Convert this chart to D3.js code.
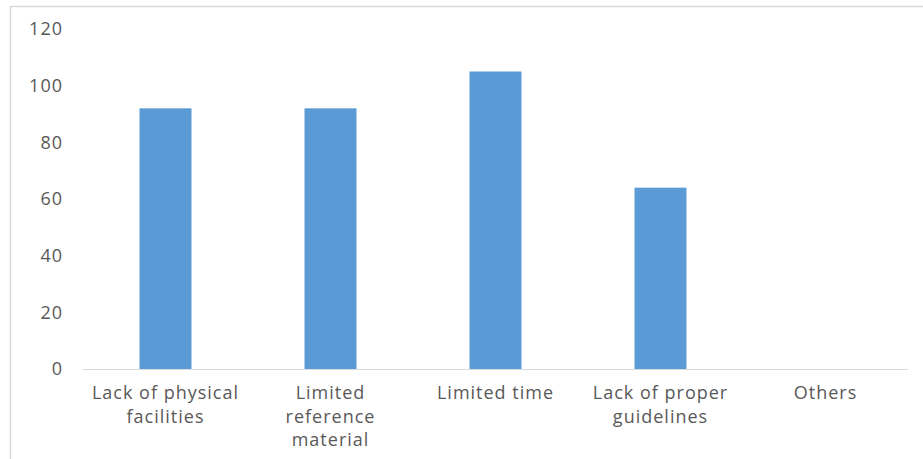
<!DOCTYPE html>
<html>
<head>
<meta charset="utf-8">
<script src="https://cdn.jsdelivr.net/npm/d3@7"></script>
<style>
  body { margin: 0; background: #fff; }
  svg text { font-family: "Open Sans", sans-serif; fill: #595959; letter-spacing: 1px; }
</style>
</head>
<body>
<div id="chart"></div>
<script>
// data
var categories = [
  ["Lack of physical", "facilities"],
  ["Limited", "reference", "material"],
  ["Limited time"],
  ["Lack of proper", "guidelines"],
  ["Others"]
];
var values = [92, 92, 105, 64, 0];
var yTicks = [0, 20, 40, 60, 80, 100, 120];

var svgWidth = 923;
var svgHeight = 459;

var margin = { top: 29, right: 15, bottom: 90, left: 83 };
var width = svgWidth - margin.left - margin.right;
var height = svgHeight - margin.top - margin.bottom;

var svg = d3.select("#chart")
  .append("svg")
  .attr("width", svgWidth)
  .attr("height", svgHeight);

// chart area border (top and left edges visible)
svg.append("path")
  .attr("d", "M10.5," + svgHeight + "V6.5H" + svgWidth)
  .attr("fill", "none")
  .attr("stroke", "#d9d9d9")
  .attr("stroke-width", 1.5);

var chartGroup = svg.append("g")
  .attr("transform", `translate(${margin.left}, ${margin.top})`);

var xScale = d3.scaleBand()
  .domain(d3.range(categories.length))
  .range([0, width])
  .paddingInner(0.685)
  .paddingOuter(0.3425);

var yScale = d3.scaleLinear()
  .domain([0, 120])
  .range([height, 0]);

// y axis labels only
var yAxis = chartGroup.append("g")
  .call(d3.axisLeft(yScale).tickValues(yTicks).tickSize(0).tickPadding(20));
yAxis.select(".domain").remove();
yAxis.selectAll("text")
  .attr("font-size", "18px")
  .style("font-family", "'Open Sans', sans-serif")
  .attr("fill", "#595959");

// bars
chartGroup.selectAll("rect.bar")
  .data(values)
  .enter()
  .append("rect")
  .attr("class", "bar")
  .attr("x", (d, i) => xScale(i))
  .attr("y", d => yScale(d))
  .attr("width", xScale.bandwidth())
  .attr("height", d => height - yScale(d))
  .attr("fill", "#5b9bd5");

// baseline
chartGroup.append("line")
  .attr("x1", 0)
  .attr("x2", width)
  .attr("y1", yScale(0) + 0.5)
  .attr("y2", yScale(0) + 0.5)
  .attr("stroke", "#d9d9d9")
  .attr("stroke-width", 1.2);

// category labels, wrapped like the original
var labels = chartGroup.append("g")
  .selectAll("text")
  .data(categories)
  .enter()
  .append("text")
  .attr("text-anchor", "middle")
  .attr("font-size", "18px")
  .attr("transform", (d, i) => `translate(${xScale(i) + xScale.bandwidth() / 2},${height + 30})`);

labels.selectAll("tspan")
  .data(d => d)
  .enter()
  .append("tspan")
  .attr("x", 0)
  .attr("y", (d, j) => j * 23.5)
  .text(d => d);
</script>
</body>
</html>
